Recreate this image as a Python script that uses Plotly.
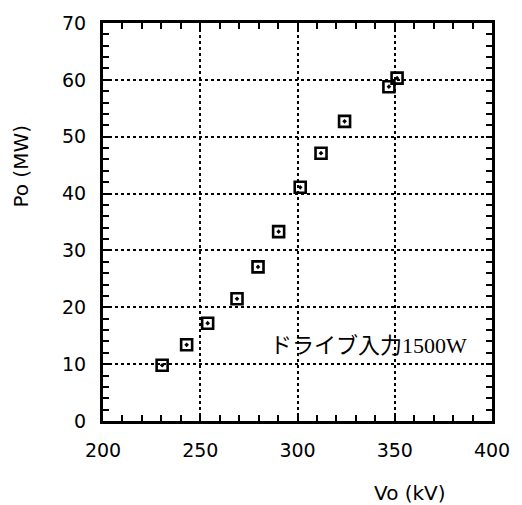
import plotly.graph_objects as go

vo_kv = [230.4, 243.0, 253.8, 268.9, 279.7, 290.3, 301.4, 312.1, 324.2, 347.0, 351.2]
po_mw = [9.8, 13.4, 17.2, 21.5, 27.1, 33.3, 41.1, 47.1, 52.7, 58.8, 60.3]

x_ticks = [200, 250, 300, 350, 400]
y_ticks = [0, 10, 20, 30, 40, 50, 60, 70]
note_text = "ドライブ入力1500W"

tick_font = dict(family="DejaVu Sans", size=19, color="black")

fig = go.Figure()
fig.add_trace(go.Scatter(
    x=vo_kv, y=po_mw, mode="markers",
    marker=dict(symbol="square-open-dot", size=11, color="black",
                line=dict(width=2.6, color="black")),
    showlegend=False, cliponaxis=False,
))

axis_common = dict(
    showline=True, linewidth=3, linecolor="black", mirror="ticks",
    ticks="inside", ticklen=6, tickwidth=2, tickcolor="black",
    showgrid=True, gridcolor="black", gridwidth=1.6, griddash="dot",
    zeroline=False, tickfont=tick_font,
)

fig.update_xaxes(range=[200, 400], tickvals=x_ticks,
                 ticktext=[str(v) for v in x_ticks],
                 minor=dict(dtick=10, ticks="inside", ticklen=6, tickwidth=2,
                            tickcolor="black", showgrid=False),
                 ticklabelstandoff=10,
                 **axis_common)
fig.update_yaxes(range=[0, 70], tickvals=y_ticks,
                 ticktext=[str(v) for v in y_ticks],
                 minor=dict(dtick=2, ticks="inside", ticklen=6, tickwidth=2,
                            tickcolor="black", showgrid=False),
                 ticklabelstandoff=10,
                 **axis_common)

fig.add_annotation(text="Vo (kV)", xref="paper", yref="paper",
                   x=0.79, y=-0.18, xanchor="center", yanchor="middle",
                   showarrow=False,
                   font=dict(family="DejaVu Sans", size=20, color="black"))
fig.add_annotation(text="Po (MW)", xref="paper", yref="paper",
                   x=-0.21, y=0.64, xanchor="center", yanchor="middle",
                   textangle=-90, showarrow=False,
                   font=dict(family="DejaVu Sans", size=20, color="black"))
fig.add_annotation(text=note_text, xref="x", yref="y",
                   x=388, y=13.3, xanchor="right", yanchor="middle",
                   showarrow=False,
                   font=dict(family="Liberation Serif, Noto Sans CJK JP", size=22,
                             color="black"))

fig.update_layout(
    width=522, height=505,
    margin=dict(l=103, r=24, t=20, b=84),
    paper_bgcolor="white", plot_bgcolor="white",
)

fig.write_html("out.html", config={"displayModeBar": False},
               post_script="document.body.style.margin='0';document.body.style.overflow='hidden';")
